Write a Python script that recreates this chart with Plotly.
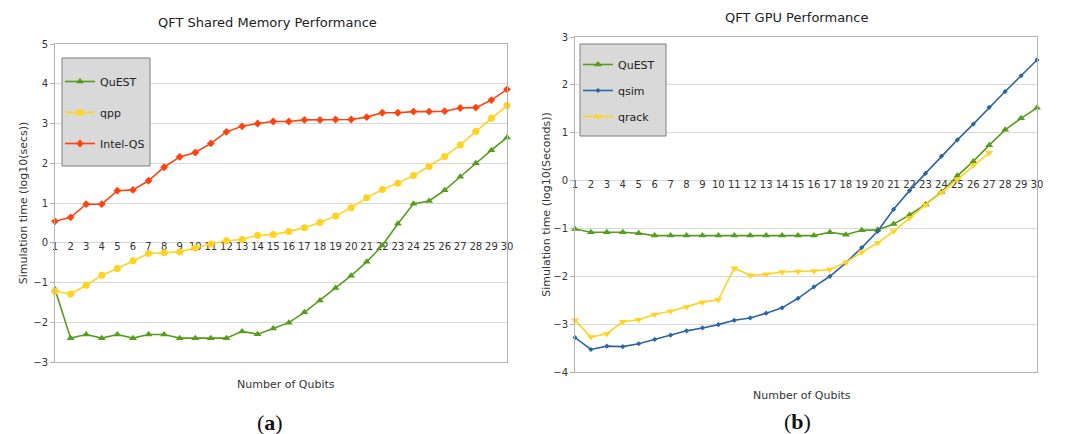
import plotly.graph_objects as go

qubits = list(range(1, 31))
tick_labels = [str(q) for q in qubits]

# Left chart: QFT Shared Memory Performance (log10 secs)
left_quest = [-1.17, -2.40, -2.31, -2.40, -2.31, -2.40, -2.31, -2.31, -2.40, -2.40,
              -2.40, -2.40, -2.23, -2.30, -2.16, -2.01, -1.75, -1.45, -1.14, -0.83,
              -0.48, -0.07, 0.48, 0.98, 1.05, 1.32, 1.66, 2.00, 2.33, 2.65]
left_qpp = [-1.22, -1.29, -1.07, -0.82, -0.65, -0.45, -0.27, -0.25, -0.23, -0.13,
            -0.03, 0.05, 0.08, 0.19, 0.21, 0.28, 0.38, 0.51, 0.67, 0.88,
            1.13, 1.34, 1.50, 1.69, 1.92, 2.17, 2.46, 2.80, 3.13, 3.45]
left_intel = [0.54, 0.64, 0.97, 0.97, 1.31, 1.33, 1.56, 1.90, 2.16, 2.27,
              2.50, 2.79, 2.93, 3.00, 3.05, 3.05, 3.09, 3.09, 3.10, 3.10,
              3.16, 3.27, 3.27, 3.30, 3.30, 3.31, 3.39, 3.40, 3.59, 3.86]

# Right chart: QFT GPU Performance (log10 seconds)
right_quest = [-1.01, -1.08, -1.08, -1.08, -1.10, -1.15, -1.15, -1.15, -1.15, -1.15,
               -1.15, -1.15, -1.15, -1.15, -1.15, -1.15, -1.08, -1.13, -1.04, -1.03,
               -0.91, -0.72, -0.50, -0.24, 0.10, 0.40, 0.74, 1.06, 1.30, 1.52]
right_qsim = [-3.28, -3.53, -3.46, -3.47, -3.41, -3.32, -3.23, -3.14, -3.08, -3.01,
              -2.92, -2.87, -2.77, -2.66, -2.46, -2.22, -2.00, -1.72, -1.40, -1.06,
              -0.60, -0.21, 0.15, 0.51, 0.85, 1.18, 1.53, 1.86, 2.19, 2.52]
right_qrack = [-2.92, -3.27, -3.20, -2.95, -2.91, -2.80, -2.73, -2.64, -2.54, -2.49,
               -1.83, -1.98, -1.96, -1.91, -1.90, -1.89, -1.86, -1.71, -1.50, -1.30,
               -1.06, -0.78, -0.51, -0.25, 0.03, 0.32, 0.58]

GREEN = "#579d1c"
RED = "#ff420e"
YELLOW = "#ffd320"
BLUE = "#2e64a0"
FONT = "DejaVu Sans"
W, H = 1065, 434

fig = go.Figure()

# category tick labels sitting on the y=0 line
for xa, ya in (("x", "y"), ("x2", "y2")):
    fig.add_trace(go.Scatter(x=qubits, y=[0] * len(qubits), text=tick_labels,
                             mode="text", textposition="bottom center",
                             textfont=dict(family=FONT, size=10, color="#333333"),
                             xaxis=xa, yaxis=ya, showlegend=False, hoverinfo="skip",
                             cliponaxis=False))

def line(name, y, color, symbol, size, xa, ya, legend, group):
    return go.Scatter(x=qubits[:len(y)], y=y, name=name, mode="lines+markers",
                      line=dict(color=color, width=1.6),
                      marker=dict(symbol=symbol, size=size, color=color),
                      xaxis=xa, yaxis=ya, legend=legend, legendgroup=group,
                      cliponaxis=False)

fig.add_trace(line("QuEST", left_quest, GREEN, "triangle-up", 7, "x", "y", "legend", "a1"))
fig.add_trace(line("qpp", left_qpp, YELLOW, "circle", 7, "x", "y", "legend", "a2"))
fig.add_trace(line("Intel-QS", left_intel, RED, "diamond", 6, "x", "y", "legend", "a3"))
fig.add_trace(line("QuEST", right_quest, GREEN, "triangle-up", 7, "x2", "y2", "legend2", "b1"))
fig.add_trace(line("qsim", right_qsim, BLUE, "diamond", 4, "x2", "y2", "legend2", "b2"))
fig.add_trace(line("qrack", right_qrack, YELLOW, "triangle-down", 7, "x2", "y2", "legend2", "b3"))

def px_x(p):
    return p / W

def px_y(p):
    return 1 - p / H

axis_common = dict(showline=True, mirror=True, linecolor="#b3b3b3", linewidth=1,
                   automargin=False)
xcommon = dict(axis_common, range=[1, 30], showgrid=False, showticklabels=False,
               ticks="", zeroline=False)
ycommon = dict(axis_common, showgrid=True, gridcolor="#d9d9d9", gridwidth=1,
               zeroline=False, ticks="outside", ticklen=4, tickcolor="#b3b3b3",
               dtick=1, tickfont=dict(family=FONT, size=10, color="#333333"),
               title_font=dict(family=FONT, size=11, color="#333333"))

leg_common = dict(bgcolor="rgba(0,0,0,0)", borderwidth=0, xanchor="left", yanchor="top",
                  font=dict(family=FONT, size=11, color="#222222"), itemwidth=30)

def ann(text, x, y, size, family=FONT, color="#222222"):
    return dict(text=text, x=px_x(x), y=px_y(y), xref="paper", yref="paper",
                xanchor="center", yanchor="middle", showarrow=False,
                font=dict(family=family, size=size, color=color))

fig.update_layout(
    width=W, height=H, margin=dict(l=0, r=0, t=0, b=0, autoexpand=False),
    paper_bgcolor="white", plot_bgcolor="white",
    font=dict(family=FONT, size=11, color="#333333"),
    xaxis=dict(xcommon, domain=[px_x(55), px_x(507)], anchor="y"),
    yaxis=dict(ycommon, domain=[px_y(362), px_y(44)], range=[-3, 5], anchor="x",
               title=dict(text="Simulation time (log10(secs))", standoff=3)),
    xaxis2=dict(xcommon, domain=[px_x(575), px_x(1037)], anchor="y2"),
    yaxis2=dict(ycommon, domain=[px_y(372), px_y(37)], range=[-4, 3], anchor="x2",
                title=dict(text="Simulation time (log10(Seconds))", standoff=0)),
    legend=dict(leg_common, x=px_x(60), y=px_y(67), tracegroupgap=12),
    legend2=dict(leg_common, x=px_x(578), y=px_y(50), tracegroupgap=7),
    shapes=[
        dict(type="rect", xref="paper", yref="paper", x0=px_x(62), x1=px_x(150),
             y0=px_y(166), y1=px_y(58), fillcolor="#d9d9d9",
             line=dict(color="#7f7f7f", width=1), layer="above"),
        dict(type="rect", xref="paper", yref="paper", x0=px_x(580), x1=px_x(666),
             y0=px_y(136), y1=px_y(44), fillcolor="#d9d9d9",
             line=dict(color="#7f7f7f", width=1), layer="above"),
    ],
    annotations=[
        ann("QFT Shared Memory Performance", 267, 22, 13),
        ann("QFT GPU Performance", 797, 17, 13),
        ann("Number of Qubits", 286, 384, 11, color="#333333"),
        ann("Number of Qubits", 802, 395, 11, color="#333333"),
        ann("(<b>a</b>)", 270, 422, 22, family="Liberation Serif", color="#111111"),
        ann("(<b>b</b>)", 797, 421, 22, family="Liberation Serif", color="#111111"),
    ],
)

fig.write_html("out.html", config={"displayModeBar": False},
               post_script="document.body.style.margin='0px';")
